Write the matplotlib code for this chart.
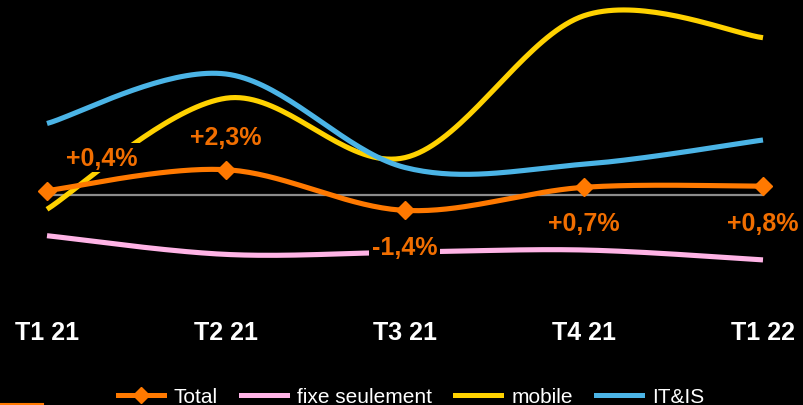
import numpy as np
import matplotlib
matplotlib.use("Agg")
import matplotlib.pyplot as plt
from matplotlib.lines import Line2D

plt.rcParams['font.family'] = ['Liberation Sans', 'DejaVu Sans']

# data (% change)
quarters = ["T1 21", "T2 21", "T3 21", "T4 21", "T1 22"]
total = [0.4, 2.3, -1.4, 0.7, 0.8]
fixe = [-3.7, -5.4, -5.2, -5.0, -5.9]
mobile = [-1.3, 8.8, 3.4, 16.3, 14.3]
itis = [6.5, 11.0, 2.5, 2.8, 5.0]
total_labels = ["+0,4%", "+2,3%", "-1,4%", "+0,7%", "+0,8%"]

ORANGE = "#FF7900"
LABEL_ORANGE = "#F16E00"
PINK = "#FFB4E6"
YELLOW = "#FFD200"
BLUE = "#4BB4E6"


def smooth(xs, ys, n=40):
    # excel-like smoothed line (catmull-rom -> bezier) through the points
    xs = np.asarray(xs, float)
    ys = np.asarray(ys, float)
    px = np.concatenate([[xs[0]], xs, [xs[-1]]])
    py = np.concatenate([[ys[0]], ys, [ys[-1]]])
    outx, outy = [], []
    t = np.linspace(0, 1, n)
    for i in range(1, len(px) - 2):
        p0 = np.array([px[i], py[i]])
        p3 = np.array([px[i + 1], py[i + 1]])
        c1 = p0 + (np.array([px[i + 1], py[i + 1]]) - np.array([px[i - 1], py[i - 1]])) / 6
        c2 = p3 - (np.array([px[i + 2], py[i + 2]]) - np.array([px[i], py[i]])) / 6
        b = ((1 - t) ** 3)[:, None] * p0 + (3 * (1 - t) ** 2 * t)[:, None] * c1 \
            + (3 * (1 - t) * t ** 2)[:, None] * c2 + (t ** 3)[:, None] * p3
        outx.extend(b[:, 0])
        outy.extend(b[:, 1])
    return outx, outy


fig = plt.figure(figsize=(8.04, 4.06), dpi=100, facecolor="black")
ax = fig.add_axes([0, 106 / 406, 1, 300 / 406])
ax.set_facecolor("black")

x = np.arange(len(quarters))

ax.plot([x[0], x[-1]], [0, 0], color="#8c8c8c", lw=1.6, zorder=1)

for vals, col, z in [(fixe, PINK, 2), (mobile, YELLOW, 3), (itis, BLUE, 4)]:
    sx, sy = smooth(x, vals)
    ax.plot(sx, sy, color=col, lw=3.7, solid_capstyle="butt", zorder=z)

sx, sy = smooth(x, total)
ax.plot(sx, sy, color=ORANGE, lw=3.7, solid_capstyle="butt", zorder=5)
ax.plot(x, total, "D", color=ORANGE, ms=9, zorder=6)

# labels sit on black boxes that hide the lines behind them
offsets = [(55, 33), (0, 33), (0, -37), (0, -36), (0, -37)]
for i, lab in enumerate(total_labels):
    ax.annotate(lab, (x[i], total[i]), xytext=offsets[i], textcoords="offset pixels",
                ha="center", va="center", color=LABEL_ORANGE, fontsize=18,
                fontweight="bold", zorder=7,
                bbox=dict(facecolor="black", edgecolor="none", pad=2))

ax.set_xlim(-47 / 179, 4 + 41 / 179)
ax.set_ylim(-104 / 11, 196 / 11)
ax.set_xticks(x)
ax.set_xticklabels(quarters, color="white", fontsize=18, fontweight="bold")
ax.tick_params(axis="x", length=0, pad=15)
ax.set_yticks([])
for s in ax.spines.values():
    s.set_visible(False)

handles = [
    Line2D([], [], color=ORANGE, lw=3.6, marker="D", ms=8),
    Line2D([], [], color=PINK, lw=3.6),
    Line2D([], [], color=YELLOW, lw=3.6),
    Line2D([], [], color=BLUE, lw=3.6),
]
leg = fig.legend(handles, ["Total", "fixe seulement", "mobile", "IT&IS"],
                 loc="center", bbox_to_anchor=(411 / 804, 8.5 / 406), ncol=4,
                 frameon=False, fontsize=15, handlelength=2.2, handletextpad=0.5,
                 columnspacing=1.1, labelcolor="white")

# small orange mark bottom-left
fig.add_artist(Line2D([0, 43 / 804], [1.5 / 406, 1.5 / 406], color=ORANGE, lw=1.5))

fig.savefig("out.png", dpi=100, facecolor="black")
